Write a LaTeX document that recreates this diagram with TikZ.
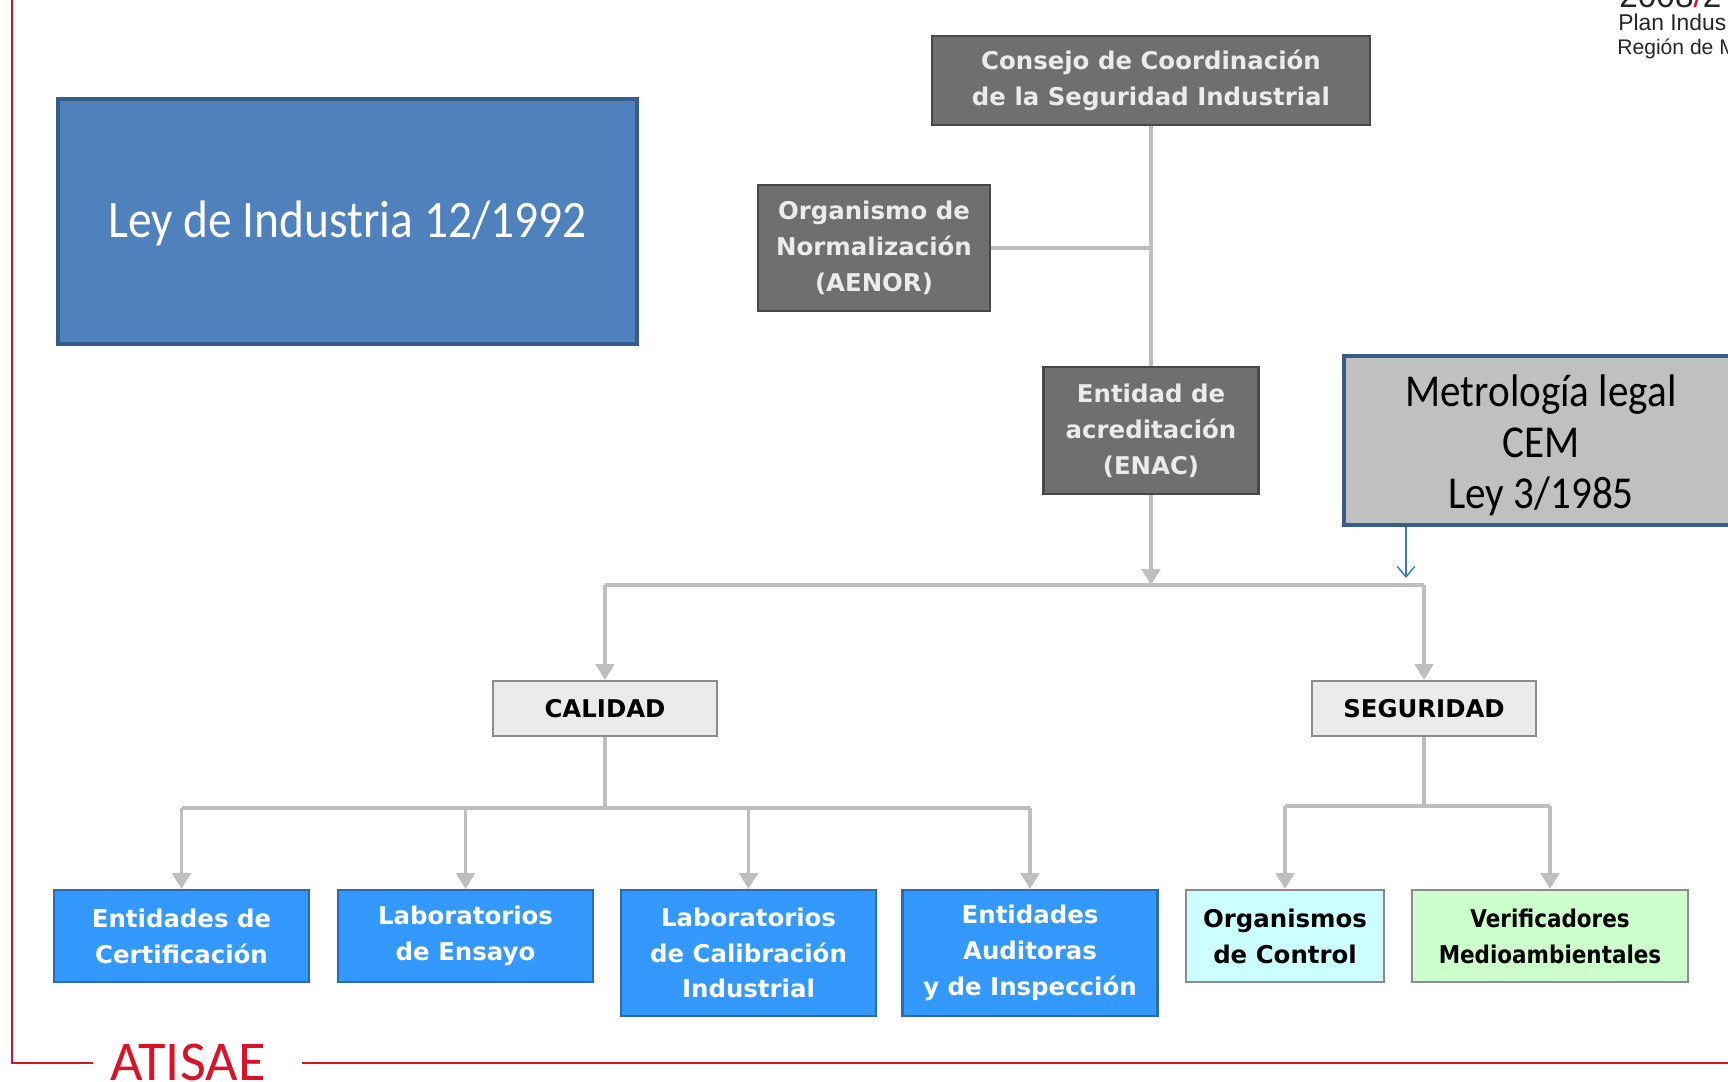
\documentclass[tikz,border=0pt]{standalone}
\usepackage{fontspec}
\usepackage{graphicx}
\usepackage{xcolor}
\setmainfont{Carlito}
\newfontfamily\boxfont{DejaVu Sans}
\newfontfamily\hdrfont{Liberation Sans}
\usetikzlibrary{arrows.meta}
\definecolor{leyblue}{HTML}{4F81BD}
\definecolor{leyedge}{HTML}{385D8A}
\definecolor{orggray}{HTML}{6F6F6F}
\definecolor{orgedge}{HTML}{474747}
\definecolor{metgray}{HTML}{C0C0C0}
\definecolor{catgray}{HTML}{EBEBEB}
\definecolor{catedge}{HTML}{8C8C8C}
\definecolor{entblue}{HTML}{3399FF}
\definecolor{entedge}{HTML}{2A6CB0}
\definecolor{ctrlcyan}{HTML}{CCFFFF}
\definecolor{verdgreen}{HTML}{CCFFCC}
\definecolor{linkgray}{HTML}{BEBEBE}
\definecolor{metblue}{HTML}{3A78C4}
\definecolor{atired}{HTML}{D7132A}
\newcommand{\nar}[1]{\scalebox{0.9}[1]{#1}}
\newcommand{\thin}[1]{\scalebox{0.88}[1]{#1}}

\begin{document}
\begin{tikzpicture}[x=0.02cm,y=-0.02cm,
  boxtext/.style={font=\boxfont\bfseries\fontsize{13.9}{20.4}\selectfont,align=center,inner sep=0pt},
  org/.style={boxtext,draw=orgedge,fill=orggray,line width=1.5pt,text=white!92!black},
  cat/.style={boxtext,draw=catedge,fill=catgray,line width=1.2pt,minimum width=4.48cm,minimum height=1.1cm},
  ent/.style={boxtext,draw=entedge,fill=entblue,line width=1.2pt,text=white,minimum width=5.1cm,minimum height=1.84cm},
  ctrlbox/.style={boxtext,draw=catedge,fill=ctrlcyan,line width=1.2pt,minimum width=3.96cm,minimum height=1.84cm},
  verifbox/.style={boxtext,draw=catedge,fill=verdgreen,line width=1.2pt,minimum width=5.52cm,minimum height=1.84cm},
  link/.style={draw=linkgray,line width=1.8pt},
  down/.style={link,-{Triangle[length=9pt,width=10.5pt]}},
  metarrow/.style={draw=metblue,line width=0.8pt,-{Straight Barb[length=6pt,width=10pt]}},
  hdr/.style={anchor=base west,inner sep=0pt,text=black!85}]
\useasboundingbox(0,0)rectangle(1728,1082);
\clip(0,0)rectangle(1728,1082);

\node[draw=leyedge,fill=leyblue,line width=2.3pt,minimum width=11.58cm,minimum height=4.9cm](ley)at(347.5,221.5){};
\node[text=white,font=\fontsize{30}{36}\selectfont](leytext)at([yshift=-0.04cm]ley.center){\nar{Ley de Industria 12/1992}};

\node[org,minimum width=8.76cm,minimum height=1.78cm](consejo)at(1151,80.5){Consejo de Coordinación\\de la Seguridad Industrial};
\node[org,minimum width=4.64cm,minimum height=2.52cm](aenor)at(874,248){Organismo de\\Normalización\\(AENOR)};
\node[org,minimum width=4.3cm,minimum height=2.54cm](enac)at(1151,430.5){Entidad de\\acreditación\\(ENAC)};

\node[draw=leyedge,fill=metgray,line width=2.3pt,minimum width=7.88cm,minimum height=3.38cm](metro)at(1541,440.5){};
\node[align=center,inner sep=0pt,font=\fontsize{26}{29}\selectfont](metrotext)at([yshift=-0.09cm]metro.center){\nar{Metrología legal}\\\nar{CEM}\\\nar{Ley 3/1985}};

\node[cat](calidad)at(605,708.5){CALIDAD};
\node[cat](seguridad)at(1424,708.5){SEGURIDAD};

\node[ent](certif)at(181.5,936){Entidades de\\Certificación};
\node[ent](ensayo)at(465.5,936){Laboratorios\\de Ensayo};
\node[ent,minimum height=2.52cm](calib)at(748.5,953){Laboratorios\\de Calibración\\Industrial};
\node[ent,minimum height=2.52cm](audit)at(1030,953){Entidades\\Auditoras\\y de Inspección};
\node[ctrlbox](control)at(1285,936){Organismos\\de Control};
\node[verifbox](verif)at(1550,936){\thin{Verificadores}\\\thin{Medioambientales}};

\draw[link](consejo)--(enac);
\draw[link](aenor)--(aenor-|consejo);
\coordinate(split)at(1151,585);
\draw[down](enac)--(split);
\draw[link](calidad.north|-split)--(seguridad.north|-split);
\draw[down](calidad.north|-split)--(calidad);
\draw[down](seguridad.north|-split)--(seguridad);

\coordinate(metroin)at(1406,578);
\draw[metarrow](metro.south-|metroin)--(metroin);

\coordinate(calfork)at(605,808);
\draw[link](calidad)--(calfork);
\draw[link](certif.north|-calfork)--(audit.north|-calfork);
\foreach \b in {certif,ensayo,calib,audit}
  \draw[down](\b.north|-calfork)--(\b);

\coordinate(segfork)at(1424,806);
\draw[link](seguridad)--(segfork);
\draw[link](control.north|-segfork)--(verif.north|-segfork);
\foreach \b in {control,verif}
  \draw[down](\b.north|-segfork)--(\b);

\node[anchor=base west,inner sep=0pt,text=atired,font=\fontsize{32}{32}\selectfont](atisae)at(110,1080){ATISAE};
\draw[atired,line width=1.2pt](12,0)--(12,1063)--(93,1063);
\draw[atired,line width=1.2pt](302,1063)--(1728,1063);

\node[hdr,font=\hdrfont\fontsize{19}{20}\selectfont](year)at(1619,7){2008{\color{atired}/}2};
\node[hdr,font=\hdrfont\fontsize{13}{14}\selectfont](plan)at(1618,30){Plan Indus};
\node[hdr,font=\hdrfont\fontsize{12}{14}\selectfont](region)at(1617,54){Región de M};
\end{tikzpicture}
\end{document}
